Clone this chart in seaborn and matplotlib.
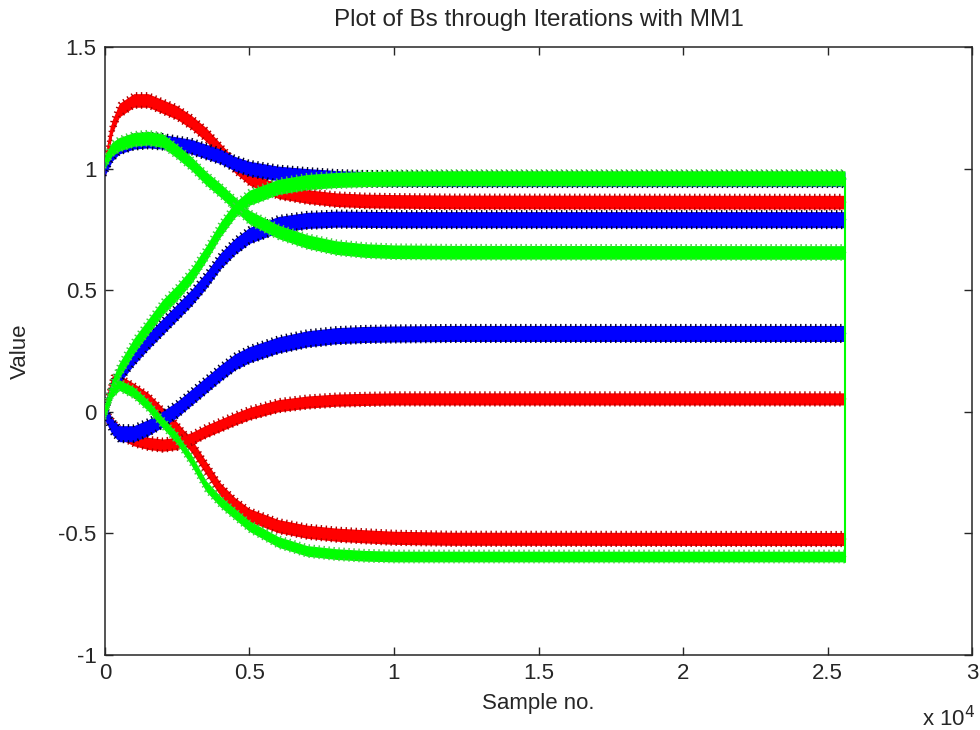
import numpy as np
import pandas as pd
import matplotlib
matplotlib.use("Agg")
import matplotlib.pyplot as plt
import seaborn as sns

# Sample numbers at which the coefficient traces are read
samples = [0, 250, 500, 1000, 1500, 2000, 2500, 3000, 3500, 4000, 4500,
           5000, 6000, 7000, 8000, 9000, 10000, 12000, 25600]

# Red coefficients
red_b1 = [1.00, 1.17, 1.24, 1.28, 1.28, 1.255, 1.23, 1.19, 1.14, 1.075, 1.01,
          0.96, 0.905, 0.885, 0.872, 0.867, 0.865, 0.863, 0.862]
red_b2 = [0.00, 0.12, 0.125, 0.09, 0.05, -0.01, -0.07, -0.14, -0.23, -0.32, -0.38,
          -0.425, -0.47, -0.493, -0.505, -0.512, -0.518, -0.522, -0.523]
red_b3 = [0.00, -0.05, -0.085, -0.115, -0.13, -0.137, -0.13, -0.11, -0.08, -0.055, -0.03,
          -0.007, 0.025, 0.04, 0.048, 0.051, 0.053, 0.053, 0.053]

# Blue coefficients
blue_b1 = [1.00, 1.06, 1.09, 1.11, 1.115, 1.11, 1.10, 1.09, 1.07, 1.05, 1.02,
           1.00, 0.98, 0.97, 0.962, 0.958, 0.957, 0.956, 0.956]
blue_b2 = [0.00, 0.10, 0.15, 0.225, 0.29, 0.35, 0.41, 0.47, 0.54, 0.62, 0.68,
           0.725, 0.77, 0.787, 0.792, 0.791, 0.79, 0.79, 0.79]
blue_b3 = [0.00, -0.06, -0.09, -0.09, -0.065, -0.03, 0.01, 0.06, 0.11, 0.16, 0.205,
           0.235, 0.275, 0.30, 0.313, 0.318, 0.32, 0.322, 0.322]

# Green coefficients
green_b1 = [1.03, 1.08, 1.10, 1.12, 1.125, 1.115, 1.07, 1.02, 0.96, 0.91, 0.855,
            0.80, 0.74, 0.70, 0.675, 0.663, 0.658, 0.656, 0.655]
green_b2 = [0.00, 0.10, 0.17, 0.27, 0.35, 0.43, 0.49, 0.56, 0.65, 0.75, 0.83,
            0.88, 0.925, 0.945, 0.953, 0.957, 0.959, 0.96, 0.96]
green_b3 = [0.00, 0.08, 0.11, 0.08, 0.025, -0.045, -0.11, -0.20, -0.305, -0.37, -0.42,
            -0.47, -0.535, -0.572, -0.585, -0.592, -0.595, -0.595, -0.595]

x_ticks = [0, 5000, 10000, 15000, 20000, 25000, 30000]
x_tick_labels = ["0", "0.5", "1", "1.5", "2", "2.5", "3"]
y_ticks = [-1, -0.5, 0, 0.5, 1, 1.5]
y_tick_labels = ["-1", "-0.5", "0", "0.5", "1", "1.5"]

series = {
    "red_b1": red_b1, "red_b2": red_b2, "red_b3": red_b3,
    "blue_b1": blue_b1, "blue_b2": blue_b2, "blue_b3": blue_b3,
    "green_b1": green_b1, "green_b2": green_b2, "green_b3": green_b3,
}
df = pd.concat(
    [pd.DataFrame({"sample": samples, "value": vals, "trace": name})
     for name, vals in series.items()],
    ignore_index=True,
)

sns.set_style("ticks")
plt.rcParams["font.family"] = ["Liberation Sans", "DejaVu Sans"]
plt.rcParams["lines.scale_dashes"] = False

colors = {"red": "#ff0000", "blue": "#0000ff", "green": "#00ff00"}
rim = {"red": "#b00000", "blue": "#000028", "green": "#40d040"}
layer = {"red": 2, "blue": 3, "green": 4}
# half height of each oscillation band, in value units
spread = {
    "red_b1": 0.028, "red_b2": 0.027, "red_b3": 0.025,
    "blue_b1": 0.030, "blue_b2": 0.033, "blue_b3": 0.033,
    "green_b1": 0.028, "green_b2": 0.031, "green_b3": 0.022,
}

fig = plt.figure(figsize=(9.8, 7.3), dpi=100)
ax = fig.add_axes([0.107, 0.1027, 0.885, 0.833])

for name in series:
    col = name.split("_")[0]
    sub = df[df["trace"] == name]
    h = spread[name]
    z = layer[col]
    x = sub["sample"].to_numpy()
    y = sub["value"].to_numpy()
    ax.fill_between(x, y - h, y + h, color=colors[col], linewidth=0, zorder=z)
    # jagged rims along both edges of the band
    for sgn in (-1, 1):
        sns.lineplot(x=x, y=y + sgn * h, ax=ax, color=rim[col], linewidth=2.2,
                     estimator=None, sort=False, legend=False, zorder=z,
                     dashes=False)
        ax.lines[-1].set_dashes((1.0, 2.6))
    sns.lineplot(x=x, y=y, ax=ax, color=colors[col], linewidth=2.0,
                 estimator=None, sort=False, legend=False, zorder=z)

# closing segment of the green traces at the last sample
ax.plot([samples[-1], samples[-1]], [green_b2[-1], green_b3[-1] - spread["green_b3"]],
        color=colors["green"], linewidth=1.5, zorder=5)

ax.set_xlim(0, 30000)
ax.set_ylim(-1, 1.5)
ax.set_xticks(x_ticks)
ax.set_xticklabels(x_tick_labels)
ax.set_yticks(y_ticks)
ax.set_yticklabels(y_tick_labels)
ax.tick_params(direction="in", length=6, width=1, top=True, right=True,
               labelsize=16, colors="#262626", pad=6)
for sp in ax.spines.values():
    sp.set_visible(True)
    sp.set_color("#262626")
    sp.set_linewidth(1.1)

ax.set_xlabel("Sample no.", fontsize=16, color="#262626", labelpad=6)
ax.set_ylabel("Value", fontsize=16, color="#262626", labelpad=20)
ax.set_title("Plot of Bs through Iterations with MM1", fontsize=17.5,
             color="#262626", pad=15)
ax.text(1.003, -0.083, "x 10$^4$", transform=ax.transAxes, fontsize=16,
        color="#262626", ha="right", va="top")

fig.savefig("out.png", dpi=100, facecolor="white")
